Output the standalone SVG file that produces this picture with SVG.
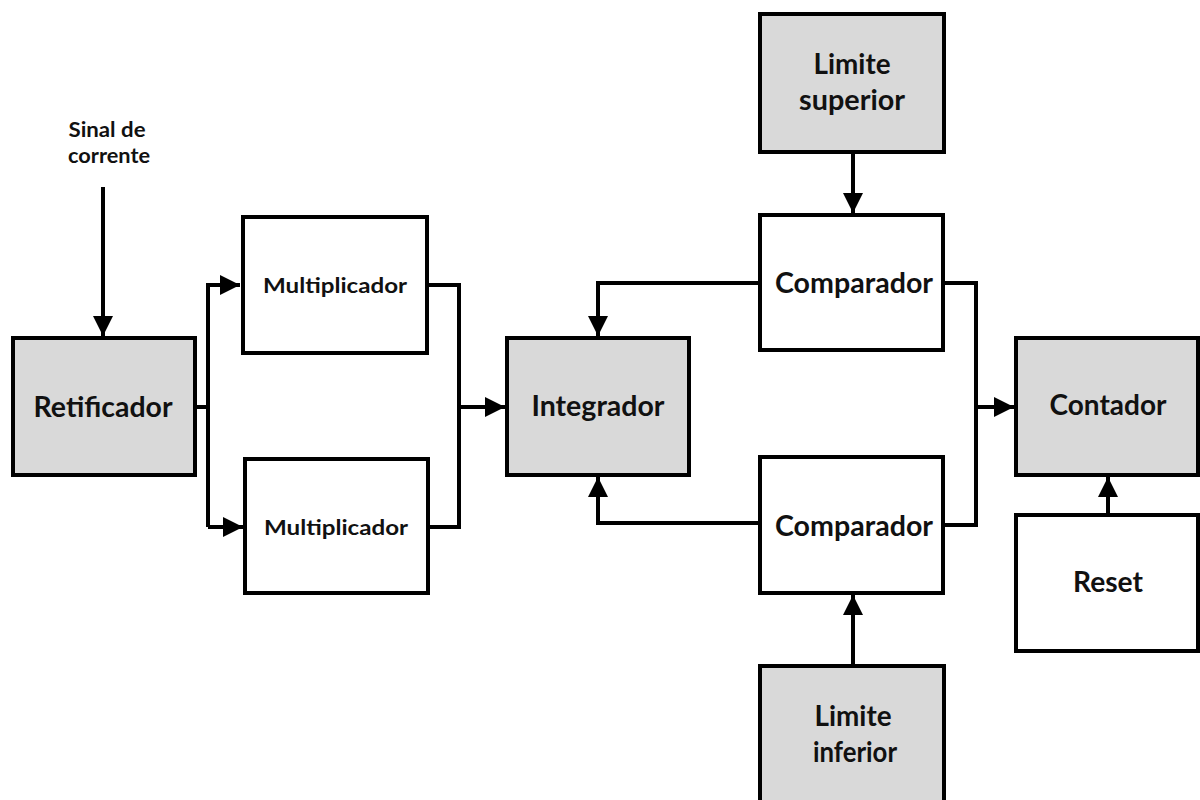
<svg xmlns="http://www.w3.org/2000/svg" width="1200" height="800" viewBox="0 0 1200 800">
<style>
.box{stroke:#000;stroke-width:4}
.g{fill:#d9d9d9}
.w{fill:#fff}
.t{font-family:Lato,"Open Sans","Liberation Sans",sans-serif;font-weight:bold;fill:#111;text-anchor:middle}
.big{font-size:28px}
.mid{font-size:21px}
.sm{font-size:21px}
.c{fill:none;stroke:#000;stroke-width:4}
</style>
<defs>
<marker id="ah" markerUnits="userSpaceOnUse" markerWidth="22" markerHeight="22" refX="20" refY="10" orient="auto">
<path d="M0,0 L20,10 L0,20 Z" fill="#000"/>
</marker>
</defs>
<rect width="1200" height="800" fill="#fff"/>
<g id="connectors">
<path class="c" d="M103,187 V336" marker-end="url(#ah)"/>
<path class="c" d="M195,407 H208"/>
<path class="c" d="M208,527 V285 H240" marker-end="url(#ah)"/>
<path class="c" d="M208,527 H243" marker-end="url(#ah)"/>
<path class="c" d="M427,285 H459 V527 H428"/>
<path class="c" d="M459,407 H505" marker-end="url(#ah)"/>
<path class="c" d="M760,283 H598 V336" marker-end="url(#ah)"/>
<path class="c" d="M760,523 H598 V477" marker-end="url(#ah)"/>
<path class="c" d="M853,152 V213" marker-end="url(#ah)"/>
<path class="c" d="M853,666 V595" marker-end="url(#ah)"/>
<path class="c" d="M943,283 H976 V525 H943"/>
<path class="c" d="M976,407 H1014" marker-end="url(#ah)"/>
<path class="c" d="M1108,515 V477" marker-end="url(#ah)"/>
</g>
<g id="sinal">
<text class="t sm" x="107" y="137" textLength="77" lengthAdjust="spacingAndGlyphs">Sinal de</text>
<text class="t sm" x="109" y="163" textLength="82" lengthAdjust="spacingAndGlyphs">corrente</text>
</g>
<g id="retificador">
<rect class="box g" x="13" y="338" width="182" height="137"/>
<text class="t big" x="103" y="417" textLength="139" lengthAdjust="spacingAndGlyphs">Retificador</text>
</g>
<g id="mult1">
<rect class="box w" x="243" y="217" width="184" height="136"/>
<text class="t mid" x="335" y="293" textLength="144" lengthAdjust="spacingAndGlyphs">Multiplicador</text>
</g>
<g id="mult2">
<rect class="box w" x="245" y="459" width="183" height="134"/>
<text class="t mid" x="336" y="535" textLength="144" lengthAdjust="spacingAndGlyphs">Multiplicador</text>
</g>
<g id="integrador">
<rect class="box g" x="507" y="338" width="182" height="137"/>
<text class="t big" x="598" y="416" textLength="133" lengthAdjust="spacingAndGlyphs">Integrador</text>
</g>
<g id="limsup">
<rect class="box g" x="760" y="14" width="184" height="138"/>
<text class="t big" x="852" y="74" textLength="77" lengthAdjust="spacingAndGlyphs">Limite</text>
<text class="t big" x="852" y="110" textLength="106" lengthAdjust="spacingAndGlyphs">superior</text>
</g>
<g id="comp1">
<rect class="box w" x="760" y="215" width="183" height="135"/>
<text class="t big" x="854" y="293" textLength="158" lengthAdjust="spacingAndGlyphs">Comparador</text>
</g>
<g id="comp2">
<rect class="box w" x="760" y="457" width="183" height="136"/>
<text class="t big" x="854" y="536" textLength="158" lengthAdjust="spacingAndGlyphs">Comparador</text>
</g>
<g id="liminf">
<rect class="box g" x="760" y="666" width="184" height="136"/>
<text class="t big" x="853" y="726" textLength="77" lengthAdjust="spacingAndGlyphs">Limite</text>
<text class="t big" x="855" y="762" textLength="84" lengthAdjust="spacingAndGlyphs">inferior</text>
</g>
<g id="contador">
<rect class="box g" x="1016" y="338" width="182" height="137"/>
<text class="t big" x="1108" y="415" textLength="117" lengthAdjust="spacingAndGlyphs">Contador</text>
</g>
<g id="reset">
<rect class="box w" x="1016" y="515" width="182" height="136"/>
<text class="t big" x="1108" y="592" textLength="70" lengthAdjust="spacingAndGlyphs">Reset</text>
</g>
</svg>
